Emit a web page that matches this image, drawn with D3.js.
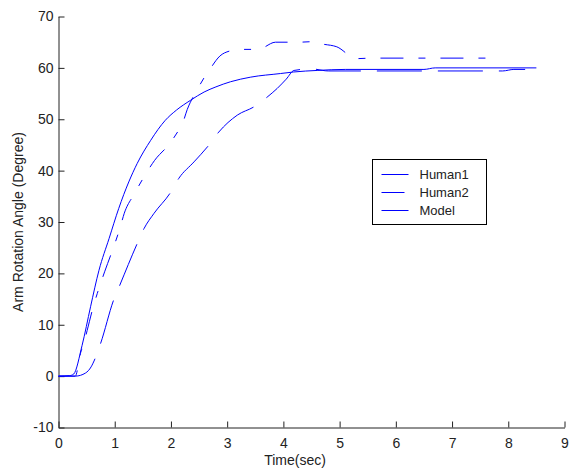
<!DOCTYPE html>
<html>
<head>
<meta charset="utf-8">
<script src="https://cdn.jsdelivr.net/npm/d3@7"></script>
<style>
  body { margin: 0; background: #fff; }
  text { font-family: "Liberation Sans", Arial, sans-serif; fill: #222; }
  .axis path, .axis line { stroke: #222; }
</style>
</head>
<body>
<div id="chart"></div>
<script>
/* DATA (time in sec, angle in degree) */
const human1 = [[0,0],[0.2,0.1],[0.27,0.4],[0.42,6],[0.57,13.5],[0.72,20.6],[0.9,26.8],[1.07,32.6],[1.25,37.8],[1.4,41.4],[1.64,45.9],[1.9,49.8],[2.1,51.8],[2.35,53.7],[2.59,55.3],[2.8,56.3],[3.06,57.3],[3.42,58.2],[3.95,58.9],[4.18,59.2],[4.6,59.5],[5.1,59.7],[6.5,59.7],[6.7,60],[8.5,60]];
const human2 = [[0,0],[0.3,0],[0.35,2],[0.39,4.4],[0.44,6],[0.51,8.9],[0.61,13.2],[0.69,16.1],[0.82,20.3],[0.96,24.5],[1.09,28.7],[1.17,31.7],[1.35,35.5],[1.5,38.4],[1.71,42],[1.98,45.3],[2.14,47.9],[2.2,49],[2.29,51.9],[2.47,55.8],[2.62,58.6],[2.69,59.7],[2.87,62.3],[3.05,63.3],[3.23,63.6],[3.52,63.6],[3.61,63.8],[3.86,65],[4.26,65],[4.54,65.1],[4.67,64.7],[4.95,64.1],[5.3,61.8],[5.57,61.9],[7.6,61.9]];
const model = [[0,0],[0.3,0],[0.48,0.6],[0.58,1.8],[0.65,3.4],[0.75,6.4],[0.98,14.8],[1.09,17.7],[1.4,25.8],[1.52,28.7],[1.7,31.7],[1.99,35.7],[2.14,38.5],[2.41,41.7],[2.67,44.9],[2.85,47.5],[3.18,50.8],[3.49,52.5],[3.71,54.3],[3.89,56],[4.05,57.8],[4.19,59.5],[4.5,59.8],[4.8,59.4],[7.9,59.4],[8.1,59.7],[8.3,59.7]];
const seriesNames = ["Human1", "Human2", "Model"];
const xTicks = [0,1,2,3,4,5,6,7,8,9];
const yTicks = [-10,0,10,20,30,40,50,60,70];

const width = 573, height = 470;
const dashes = { Human1: null, Human2: "23,15,7,15", Model: "45,16" };

const svg = d3.select("#chart").append("svg")
  .attr("width", width)
  .attr("height", height);

const x = d3.scaleLinear().domain([0, 9]).range([58.5, 564.5]);
const y = d3.scaleLinear().domain([-10, 70]).range([427.5, 16.5]);

// axes, ticks pointing inward like matlab
svg.append("g")
  .attr("class", "axis")
  .attr("transform", `translate(0,${y(-10)})`)
  .call(d3.axisBottom(x).tickValues(xTicks).tickFormat(d => String(d)).tickSizeInner(-6).tickSizeOuter(0).tickPadding(11))
  .call(g => g.selectAll("text").attr("font-size", 14).attr("font-family", "Liberation Sans, Arial, sans-serif"));

svg.append("g")
  .attr("class", "axis")
  .attr("transform", `translate(${x(0)},0)`)
  .call(d3.axisLeft(y).tickValues(yTicks).tickFormat(d => String(d)).tickSizeInner(-6).tickSizeOuter(0).tickPadding(5))
  .call(g => g.selectAll("text").attr("font-size", 14).attr("font-family", "Liberation Sans, Arial, sans-serif"));

svg.append("text")
  .attr("x", 295)
  .attr("y", 465)
  .attr("text-anchor", "middle")
  .attr("font-size", 14)
  .text("Time(sec)");

svg.append("text")
  .attr("transform", `translate(23,${(y(70) + y(-10)) / 2}) rotate(-90)`)
  .attr("text-anchor", "middle")
  .attr("font-size", 14)
  .text("Arm Rotation Angle (Degree)");

// curves
const line = d3.line()
  .x(d => x(d[0]))
  .y(d => y(d[1]))
  .curve(d3.curveMonotoneX);

const data = [human1, human2, model];
svg.selectAll("path.curve")
  .data(data)
  .join("path")
  .attr("class", "curve")
  .attr("d", line)
  .attr("fill", "none")
  .attr("stroke", "#0000ff")
  .attr("stroke-width", 1)
  .attr("stroke-dasharray", (d, i) => dashes[seriesNames[i]]);

// legend
const legend = svg.append("g").attr("transform", "translate(372.5,159.5)");
legend.append("rect")
  .attr("width", 114)
  .attr("height", 65)
  .attr("fill", "#fff")
  .attr("stroke", "#000");

const rows = legend.selectAll("g.row")
  .data(seriesNames)
  .join("g")
  .attr("class", "row")
  .attr("transform", (d, i) => `translate(0,${15 + i * 18})`);

rows.append("line")
  .attr("x1", 9).attr("x2", 36)
  .attr("stroke", "#0000ff")
  .attr("stroke-dasharray", d => dashes[d]);

rows.append("text")
  .attr("x", 47)
  .attr("dy", "0.35em")
  .attr("font-size", 13)
  .text(d => d);
</script>
</body>
</html>
